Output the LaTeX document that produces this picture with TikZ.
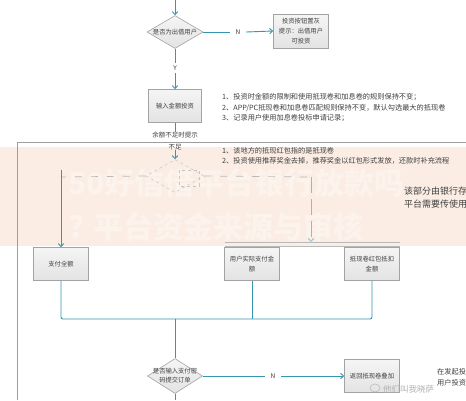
\documentclass[tikz,border=0pt]{standalone}
\usepackage{fontspec}
\newfontfamily\cjk{Noto Sans CJK SC}
\usetikzlibrary{shapes.geometric,arrows.meta}
\definecolor{tealline}{HTML}{3596AE}
\definecolor{boxline}{HTML}{A3A3A3}
\definecolor{txt}{HTML}{404040}
\definecolor{band}{HTML}{FBEDE3}
\definecolor{frameline}{HTML}{9E9E9E}
\begin{document}
\begin{tikzpicture}[x=1pt,y=-1pt,
  font=\cjk\fontsize{6.3}{9}\selectfont,
  box/.style={draw=boxline, line width=0.6pt, top color=white!92!gray, bottom color=gray!22,
    minimum width=55pt, minimum height=33pt, inner sep=1pt, align=center, text=txt,
    font=\cjk\fontsize{6.3}{9.6}\selectfont},
  dia/.style={diamond, draw=boxline, line width=0.6pt, top color=white!92!gray, bottom color=gray!22,
    minimum width=56pt, minimum height=33pt, inner sep=0pt},
  faintdia/.style={diamond, draw=gray!45, dashed, line width=0.5pt,
    minimum width=58pt, minimum height=33pt, inner sep=0pt},
  lbl/.style={text=txt, inner sep=0pt, align=center},
  yn/.style={text=txt, inner sep=0pt, minimum width=16pt, minimum height=10pt, font=\cjk\fontsize{6.5}{8}\selectfont},
  note/.style={anchor=west, text=txt, inner sep=0pt, font=\cjk\fontsize{7.2}{8}\selectfont},
  big/.style={anchor=west, text=white, opacity=0.35, inner sep=0pt, font=\cjk\bfseries\fontsize{30}{32}\selectfont},
  conn/.style={draw=tealline, line width=0.9pt},
  arr/.style={conn, -{Straight Barb[length=3pt,width=5.5pt]}},
  dline/.style={draw=gray!55, line width=0.7pt, dash pattern=on 7pt off 9pt},
  frame/.style={draw=frameline, line width=0.6pt}]
\clip (0,0) rectangle (466,400);
\fill[white] (0,0) rectangle (466,400);
% band overlay
\fill[band] (0,147) rectangle (466,246);
\node[big] (wm1) at (68,183) {50好信借平台银行放款吗};
\node[big] (wm2) at (68,227) {? 平台资金来源与审核};
% frame
\draw[frame] (17,400) -- (17,142) -- (466,142);
% top
\coordinate (top) at (175,0);
\node[dia] (d1) at (175,32) {};
\node[lbl] at (d1) {是否为出借用户};
\draw[arr] (top) -- (d1.north);
\node[yn] (n1) at (238,32) {N};
\node[box, minimum height=34pt] (b1) at (301,31) {投资按钮置灰\\提示：出借用户\\可投资};
\draw[conn] (d1.east) -- (n1.west);
\draw[arr] (n1.east) -- (b1.west);
\node[yn] (y1) at (175,68) {Y};
\node[box, minimum width=53pt] (b2) at (175,106) {输入金额投资};
\draw[conn] (d1.south) -- (y1.north);
\draw[arr] (y1.south) -- (b2.north);
% notes 1
\node[note] (l1) at (222,97) {1、投资时金额的限制和使用抵现卷和加息卷的规则保持不变；};
\node[note] (l2) at (222,108) {2、APP/PC抵现卷和加息卷匹配规则保持不变，默认勾选最大的抵现卷};
\node[note] (l3) at (222,118) {3、记录用户使用加息卷投标申请记录；};
% insufficient balance
\node[lbl, font=\cjk\fontsize{6.5}{8}\selectfont] (t1) at (175,135) {余额不足时提示};
\node[lbl, font=\cjk\fontsize{6.5}{8}\selectfont] (t2) at (175,147) {不足};
\draw[conn] (b2.south) -- (t1.north);
\node[faintdia] (d2) at (175,176) {};
\draw[gray!45, dashed, line width=0.5pt] (179,170) rectangle (199,186);
\draw[arr] (t2.south) -- (d2.north);
% notes 2
\node[note] (m1) at (222,151) {1、该地方的抵现红包指的是抵现卷};
\node[note] (m2) at (222,161) {2、投资使用推荐奖金去掉，推荐奖金以红包形式发放，还款时补充流程};
% right dark text
\node[anchor=west, inner sep=0pt, text=black!75, font=\cjk\fontsize{9}{11}\selectfont] (r1) at (404,191) {该部分由银行存};
\node[anchor=west, inner sep=0pt, text=black!75, font=\cjk\fontsize{9}{11}\selectfont] (r2) at (404,204) {平台需要传使用};
% branch boxes
\node[box] (b3) at (61,264) {支付全额};
\node[box] (b4) at (252,264) {用户实际支付金\\额};
\node[box] (b5) at (372,264) {抵现卷红包抵扣\\金额};
\coordinate (c1) at (61,177);
\coordinate (c2) at (311,177);
\coordinate (c3) at (311,242);
\draw[dline] (d2.west) -- (c1);
\draw[arr] (61,170) -- (b3.north);
\draw[dline] (d2.east) -- (c2);
\draw[tealline!60, line width=0.8pt, dash pattern=on 16pt off 6pt, -{Straight Barb[length=3pt,width=5.5pt]}] (c2) -- (c3);
\draw[gray!55, line width=0.5pt] (225,242.5) -- (400,242.5) (225,246) -- (400,246);
% merge
\coordinate (j) at (175,319);
\draw[conn, rounded corners=2pt] (b3.south) |- (j);
\draw[conn, rounded corners=2pt] (b5.south) |- (j);
\draw[conn] (b4.south) -- (b4.south |- j);
\node[dia, minimum width=55pt, minimum height=35pt] (d3) at (175,376) {};
\node[lbl, font=\cjk\fontsize{6.3}{9}\selectfont] at (d3) {是否输入支付密\\码提交订单};
\draw[conn] (j) -- (d3.north);
\node[yn] (n2) at (273,376) {N};
\node[box] (b6) at (372,376) {返回抵现卷叠加};
\draw[conn] (d3.east) -- (n2.west);
\draw[arr] (n2.east) -- (b6.west);
\coordinate (bot) at (175,400);
\draw[conn] (d3.south) -- (bot);
\node[note] (s1) at (437,372) {在发起投};
\node[note] (s2) at (437,383) {用户投资};
% watermark
\node[anchor=west, inner sep=0pt, text=gray!60, font=\cjk\fontsize{8.5}{10}\selectfont] (wm3) at (383,389) {他们叫我晓萨};
\draw[gray!55, line width=0.6pt] (375,388) ellipse (5pt and 4pt);
\end{tikzpicture}
\end{document}
